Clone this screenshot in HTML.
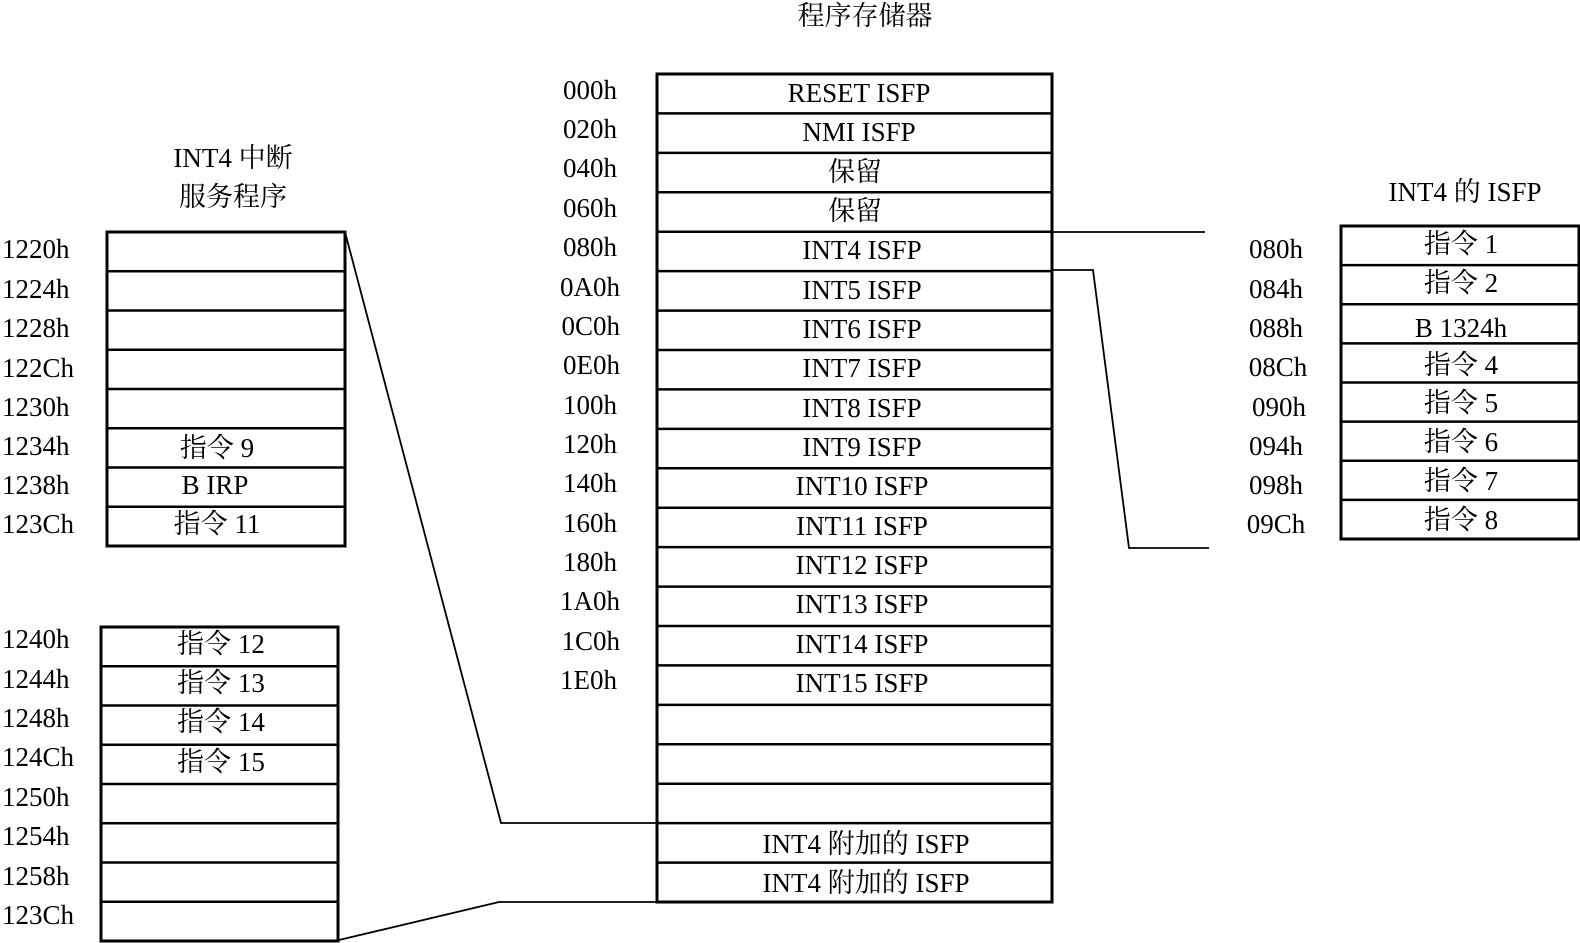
<!DOCTYPE html>
<html><head><meta charset="utf-8"><style>
html,body{margin:0;padding:0;background:#fff;}
svg{display:block;}
text{font-family:"Liberation Serif","Noto Serif CJK SC","Noto Sans CJK SC",serif;font-size:27px;fill:#000;}
</style></head><body>
<svg width="1580" height="943" viewBox="0 0 1580 943" xmlns="http://www.w3.org/2000/svg">
<g fill="none" stroke="#000">
<!-- center table -->
<rect x="657" y="74" width="395" height="828" stroke-width="3"/>
<g stroke-width="2.5">
<line x1="657" y1="113.4" x2="1052" y2="113.4"/><line x1="657" y1="152.9" x2="1052" y2="152.9"/>
<line x1="657" y1="192.3" x2="1052" y2="192.3"/><line x1="657" y1="231.7" x2="1052" y2="231.7"/>
<line x1="657" y1="271.1" x2="1052" y2="271.1"/><line x1="657" y1="310.6" x2="1052" y2="310.6"/>
<line x1="657" y1="350" x2="1052" y2="350"/><line x1="657" y1="389.4" x2="1052" y2="389.4"/>
<line x1="657" y1="428.9" x2="1052" y2="428.9"/><line x1="657" y1="468.3" x2="1052" y2="468.3"/>
<line x1="657" y1="507.7" x2="1052" y2="507.7"/><line x1="657" y1="547.1" x2="1052" y2="547.1"/>
<line x1="657" y1="586.6" x2="1052" y2="586.6"/><line x1="657" y1="626" x2="1052" y2="626"/>
<line x1="657" y1="665.4" x2="1052" y2="665.4"/><line x1="657" y1="704.9" x2="1052" y2="704.9"/>
<line x1="657" y1="744.3" x2="1052" y2="744.3"/><line x1="657" y1="783.7" x2="1052" y2="783.7"/>
<line x1="657" y1="823.1" x2="1052" y2="823.1"/><line x1="657" y1="862.6" x2="1052" y2="862.6"/>
</g>
<!-- left table 1 -->
<rect x="107" y="232" width="238" height="314" stroke-width="3"/>
<g stroke-width="2.5">
<line x1="107" y1="271.3" x2="345" y2="271.3"/><line x1="107" y1="310.5" x2="345" y2="310.5"/>
<line x1="107" y1="349.8" x2="345" y2="349.8"/><line x1="107" y1="389" x2="345" y2="389"/>
<line x1="107" y1="428.3" x2="345" y2="428.3"/><line x1="107" y1="467.5" x2="345" y2="467.5"/>
<line x1="107" y1="506.8" x2="345" y2="506.8"/>
</g>
<!-- left table 2 -->
<rect x="101" y="627" width="237" height="314" stroke-width="3"/>
<g stroke-width="2.5">
<line x1="101" y1="666.3" x2="338" y2="666.3"/><line x1="101" y1="705.5" x2="338" y2="705.5"/>
<line x1="101" y1="744.8" x2="338" y2="744.8"/><line x1="101" y1="784" x2="338" y2="784"/>
<line x1="101" y1="823.3" x2="338" y2="823.3"/><line x1="101" y1="862.5" x2="338" y2="862.5"/>
<line x1="101" y1="901.8" x2="338" y2="901.8"/>
</g>
<!-- right table -->
<rect x="1341" y="226" width="238" height="313" stroke-width="3"/>
<g stroke-width="2.5">
<line x1="1341" y1="265.1" x2="1579" y2="265.1"/><line x1="1341" y1="304.3" x2="1579" y2="304.3"/>
<line x1="1341" y1="343.4" x2="1579" y2="343.4"/><line x1="1341" y1="382.5" x2="1579" y2="382.5"/>
<line x1="1341" y1="421.6" x2="1579" y2="421.6"/><line x1="1341" y1="460.8" x2="1579" y2="460.8"/>
<line x1="1341" y1="499.9" x2="1579" y2="499.9"/>
</g>
<!-- connectors -->
<g stroke-width="1.8">
<polyline points="1052,232 1205,232"/>
<polyline points="1052,270 1093,270 1129,548 1209,548"/>
<polyline points="345,232 501,823 657,823"/>
<polyline points="339,940 499,902 657,902"/>
</g>
</g>
<!-- titles -->
<text x="865" y="25" text-anchor="middle">程序存储器</text>
<text x="233" y="167" text-anchor="middle">INT4 中断</text>
<text x="233" y="206" text-anchor="middle">服务程序</text>
<text x="1465" y="201" text-anchor="middle">INT4 的 ISFP</text>
<!-- center labels -->
<g text-anchor="end">
<text x="617" y="99">000h</text><text x="617" y="138">020h</text><text x="617" y="177">040h</text>
<text x="617" y="217">060h</text><text x="617" y="256">080h</text><text x="620" y="296">0A0h</text>
<text x="620" y="335">0C0h</text><text x="620" y="374">0E0h</text><text x="617" y="414">100h</text>
<text x="617" y="453">120h</text><text x="617" y="492">140h</text><text x="617" y="532">160h</text>
<text x="617" y="571">180h</text><text x="620" y="610">1A0h</text><text x="620" y="650">1C0h</text>
<text x="617" y="689">1E0h</text>
</g>
<g text-anchor="middle">
<text x="859" y="102">RESET ISFP</text><text x="859" y="141">NMI ISFP</text>
<text x="855" y="181">保留</text><text x="855" y="220">保留</text>
<text x="862" y="259">INT4 ISFP</text><text x="862" y="299">INT5 ISFP</text>
<text x="862" y="338">INT6 ISFP</text><text x="862" y="377">INT7 ISFP</text>
<text x="862" y="417">INT8 ISFP</text><text x="862" y="456">INT9 ISFP</text>
<text x="862" y="495">INT10 ISFP</text><text x="862" y="535">INT11 ISFP</text>
<text x="862" y="574">INT12 ISFP</text><text x="862" y="613">INT13 ISFP</text>
<text x="862" y="653">INT14 ISFP</text><text x="862" y="692">INT15 ISFP</text>
<text x="866" y="853">INT4 附加的 ISFP</text><text x="866" y="892">INT4 附加的 ISFP</text>
</g>
<!-- left labels -->
<g>
<text x="2" y="258">1220h</text><text x="2" y="298">1224h</text><text x="2" y="337">1228h</text>
<text x="2" y="377">122Ch</text><text x="2" y="416">1230h</text><text x="2" y="455">1234h</text>
<text x="2" y="494">1238h</text><text x="2" y="533">123Ch</text>
<text x="2" y="648">1240h</text><text x="2" y="688">1244h</text><text x="2" y="727">1248h</text>
<text x="2" y="766">124Ch</text><text x="2" y="806">1250h</text><text x="2" y="845">1254h</text>
<text x="2" y="885">1258h</text><text x="2" y="924">123Ch</text>
</g>
<g text-anchor="middle">
<text x="217" y="457">指令 9</text><text x="215" y="494">B IRP</text><text x="217" y="533">指令 11</text>
<text x="221" y="653">指令 12</text><text x="221" y="692">指令 13</text>
<text x="221" y="731">指令 14</text><text x="221" y="771">指令 15</text>
</g>
<!-- right labels -->
<g text-anchor="middle">
<text x="1276" y="258">080h</text><text x="1276" y="298">084h</text><text x="1276" y="337">088h</text>
<text x="1278" y="376">08Ch</text><text x="1279" y="416">090h</text><text x="1276" y="455">094h</text>
<text x="1276" y="494">098h</text><text x="1276" y="533">09Ch</text>
<text x="1461" y="253">指令 1</text><text x="1461" y="292">指令 2</text><text x="1461" y="337">B 1324h</text>
<text x="1461" y="374">指令 4</text><text x="1461" y="412">指令 5</text><text x="1461" y="451">指令 6</text>
<text x="1461" y="490">指令 7</text><text x="1461" y="529">指令 8</text>
</g>
</svg>
</body></html>
